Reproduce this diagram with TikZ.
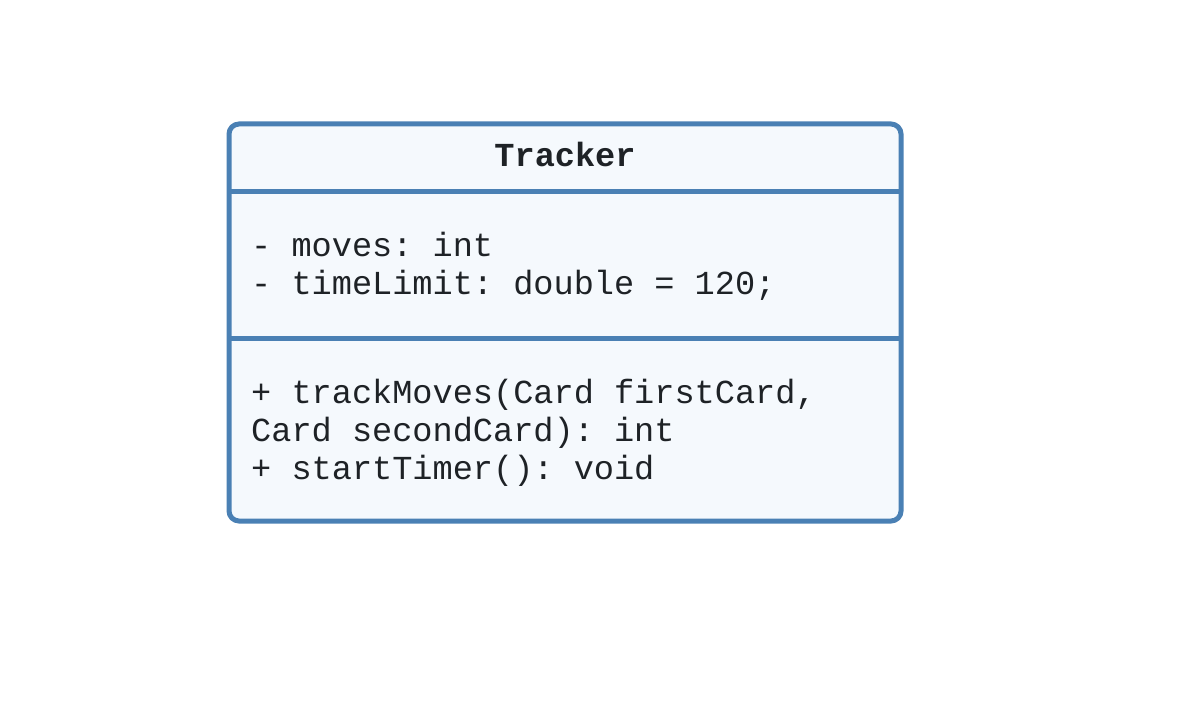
\documentclass[tikz,border=0pt]{standalone}
\usepackage{fontspec}
\setmainfont{Liberation Mono}
\frenchspacing
\definecolor{umlblue}{HTML}{4A80B4}
\definecolor{umlfill}{HTML}{F5F9FD}
\definecolor{umltext}{HTML}{1E2226}
\tikzset{
  classbox/.style={draw=umlblue, fill=umlfill, line width=5pt, rounded corners=10pt,
    minimum width=672pt, minimum height=397pt, inner sep=0pt, outer sep=0pt},
  divider/.style={draw=umlblue, line width=5pt},
  member/.style={anchor=base west, inner sep=0pt, text=umltext,
    font=\fontsize{33.6}{38}\selectfont},
  classname/.style={anchor=base, inner sep=0pt, text=umltext,
    font=\fontsize{33.6}{38}\selectfont\bfseries},
}
\begin{document}
\begin{tikzpicture}[x=1pt,y=-1pt]
  \useasboundingbox[fill=white] (0,0) rectangle (1185,703);
  % class frame
  \node[classbox] (cls) at (565,322.5) {};
  % compartment separators
  \path (cls.north west) ++(0,67.5) coordinate (d1l);
  \path (cls.north east) ++(0,67.5) coordinate (d1r);
  \path (cls.north west) ++(0,214) coordinate (d2l);
  \path (cls.north east) ++(0,214) coordinate (d2r);
  \draw[divider] (d1l) -- (d1r);
  \draw[divider] (d2l) -- (d2r);
  % name
  \node[classname] (title) at (565,167) {Tracker};
  % attributes
  \node[member] (attr1) at (251,256) {- moves: int};
  \node[member] (attr2) at (251,294) {- timeLimit: double = 120;};
  % operations
  \node[member] (op1) at (251,403) {+ trackMoves(Card firstCard,};
  \node[member] (op1b) at (251,441) {Card secondCard): int};
  \node[member] (op2) at (251,479) {+ startTimer(): void};
\end{tikzpicture}
\end{document}
